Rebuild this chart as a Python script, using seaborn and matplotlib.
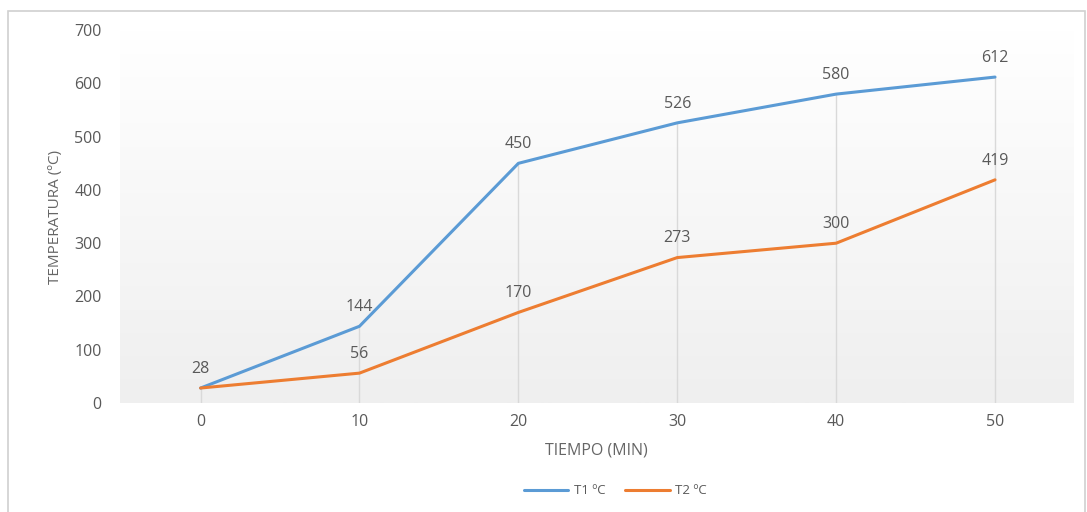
import numpy as np
import pandas as pd
import matplotlib
matplotlib.use("Agg")
import matplotlib.pyplot as plt
import seaborn as sns
from matplotlib.patches import Rectangle

tiempo = [0, 10, 20, 30, 40, 50]
t1 = [28, 144, 450, 526, 580, 612]
t2 = [28, 56, 170, 273, 300, 419]
series_names = ["T1 ºC", "T2 ºC"]
yticks = [0, 100, 200, 300, 400, 500, 600, 700]

df = pd.DataFrame({
    "tiempo": tiempo * 2,
    "temp": t1 + t2,
    "serie": [series_names[0]] * len(t1) + [series_names[1]] * len(t2),
})

sns.set_style("white")
plt.rcParams["font.family"] = ["Open Sans", "DejaVu Sans"]

fig = plt.figure(figsize=(10.87, 5.12), dpi=100)
ax = fig.add_axes([0.110, 0.213, 0.877, 0.728])

# gradient background of the plot area
grad = np.linspace(0, 1, 256).reshape(-1, 1)
ax.imshow(grad, extent=[0, 1, 0, 1], transform=ax.transAxes, aspect="auto",
          cmap=matplotlib.colors.LinearSegmentedColormap.from_list("g", ["#ffffff", "#efefef"]),
          origin="upper", zorder=0)

# drop lines
ax.vlines(tiempo, 0, np.maximum(t1, t2), color="#d9d9d9", lw=1, zorder=1)

palette = {series_names[0]: "#5b9bd5", series_names[1]: "#ed7d31"}
sns.lineplot(data=df, x="tiempo", y="temp", hue="serie", palette=palette,
             linewidth=2.2, ax=ax, legend=True, zorder=3)

lab_color = "#595959"
for x, a, b in zip(tiempo, t1, t2):
    vals = [a] if a == b else [a, b]
    for v in vals:
        ax.annotate(str(v), (x, v), xytext=(0, 8), textcoords="offset points",
                    ha="center", va="bottom", fontsize=11.5, color=lab_color)

ax.set_xlim(-5.1, 54.9)
ax.set_ylim(0, 700)
ax.set_xticks(tiempo)
ax.set_yticks(yticks)
ax.tick_params(axis="both", length=0, labelsize=11.5, colors=lab_color)
ax.tick_params(axis="y", pad=13)
ax.tick_params(axis="x", pad=8)
for s in ax.spines.values():
    s.set_visible(False)

ax.set_xlabel("TIEMPO (MIN)", fontsize=11.5, color="#666666", labelpad=9)
ax.set_ylabel("TEMPERATURA (ºC)", fontsize=11, color="#666666", labelpad=8)

leg = ax.legend(loc="center", bbox_to_anchor=(0.52, -0.236), ncol=2, frameon=False,
                fontsize=9.5, handlelength=3.4, columnspacing=1.5, handletextpad=0.4)
for t in leg.get_texts():
    t.set_color(lab_color)

# chart frame
fig.patches.append(Rectangle((8 / 1087, -0.01), 1077 / 1087, 1 - 11 / 512 + 0.01,
                             transform=fig.transFigure, fill=False,
                             edgecolor="#d0d0d0", lw=1.2))

fig.savefig("out.png", dpi=100)
